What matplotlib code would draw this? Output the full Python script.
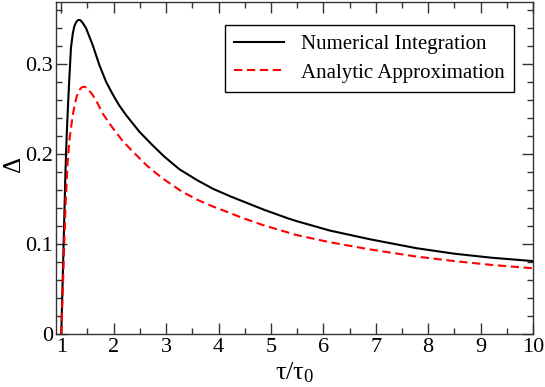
import matplotlib
matplotlib.use("Agg")
import matplotlib.pyplot as plt
from matplotlib.ticker import MultipleLocator

plt.rcParams['font.family'] = ['Liberation Serif', 'DejaVu Serif']
plt.rcParams['mathtext.fontset'] = 'custom'
plt.rcParams['mathtext.rm'] = 'Liberation Serif'
plt.rcParams['mathtext.it'] = 'Liberation Serif'

# Numerical integration (black solid)
num_x = [1.0, 1.02, 1.04, 1.06, 1.08, 1.10, 1.12, 1.15, 1.185, 1.22, 1.25, 1.29,
         1.325, 1.36, 1.40, 1.472, 1.6, 1.726, 1.854, 1.98, 2.1, 2.236, 2.49, 2.745,
         2.968, 3.255, 3.605, 3.9, 4.24, 4.88, 5.325, 5.485, 6.12, 6.885, 7.78, 8.5,
         9.2, 10.0]
num_y = [0.0, 0.045, 0.09, 0.135, 0.18, 0.215, 0.243, 0.28, 0.318, 0.334, 0.342, 0.3472,
         0.349, 0.3488, 0.3465, 0.340, 0.321, 0.299, 0.2804, 0.2665, 0.2545, 0.2433, 0.2248, 0.2095,
         0.197, 0.183, 0.1705, 0.1612, 0.1526, 0.1378, 0.1285, 0.1255, 0.115, 0.1053, 0.0953, 0.0892,
         0.0848, 0.081]

# Analytic approximation (red dashed)
ana_x = [1.0, 1.03, 1.057, 1.08, 1.10, 1.12, 1.16, 1.216, 1.26, 1.30, 1.344, 1.39,
         1.44, 1.50, 1.6, 1.7, 1.79, 1.98, 2.17, 2.36, 2.617, 2.8, 2.968, 3.3,
         3.605, 3.9, 4.24, 4.43, 4.85, 5.485, 6.12, 6.885, 7.78, 8.5, 9.2, 10.0]
ana_y = [0.0, 0.05, 0.10, 0.14, 0.165, 0.19, 0.218, 0.242, 0.256, 0.265, 0.2711, 0.274,
         0.2748, 0.273, 0.2656, 0.2555, 0.245, 0.229, 0.2145, 0.203, 0.188, 0.179, 0.1715, 0.1583,
         0.1489, 0.1415, 0.134, 0.1295, 0.121, 0.110, 0.102, 0.094, 0.086, 0.081, 0.0768, 0.073]

labels = ["Numerical Integration", "Analytic Approximation"]

fig = plt.figure(figsize=(5.45, 3.87), dpi=100)
ax = fig.add_axes([0.1028, 0.137, 0.8752, 0.858])

ax.plot(num_x, num_y, color='black', lw=1.5, label=labels[0])
ax.plot(ana_x, ana_y, color='red', lw=1.5, linestyle=(0, (4, 2.2)), label=labels[1])

ax.set_xlim(0.9, 10)
ax.set_ylim(0, 0.369)
ax.xaxis.set_major_locator(MultipleLocator(1))
ax.xaxis.set_minor_locator(MultipleLocator(0.5))
ax.yaxis.set_major_locator(MultipleLocator(0.1))
ax.yaxis.set_minor_locator(MultipleLocator(0.02))
ax.set_yticks([0, 0.1, 0.2, 0.3])
ax.set_yticklabels(['0', '0.1', '0.2', '0.3'])

ax.tick_params(which='both', direction='in', top=True, right=True, labelsize=16,
               color='#333333')
ax.tick_params(which='major', length=8, width=1)
ax.tick_params(which='minor', length=4, width=1)
ax.tick_params(axis='x', pad=3)
ax.tick_params(axis='y', pad=2)
for s in ax.spines.values():
    s.set_color('#333333')
    s.set_linewidth(1)

ax.set_xlabel('τ/τ$_0$', fontsize=19, labelpad=2)
ax.set_ylabel('Δ', fontsize=18)
ax.yaxis.set_label_coords(-0.066, 0.512)

leg = ax.legend(loc='upper right', bbox_to_anchor=(0.960, 0.931), fontsize=15,
                frameon=True, fancybox=False, edgecolor='black', framealpha=1,
                handlelength=2.4, handletextpad=0.8, borderpad=0.45, labelspacing=0.45,
                borderaxespad=0)
leg.get_frame().set_linewidth(1)

fig.savefig('out.png', dpi=100)
